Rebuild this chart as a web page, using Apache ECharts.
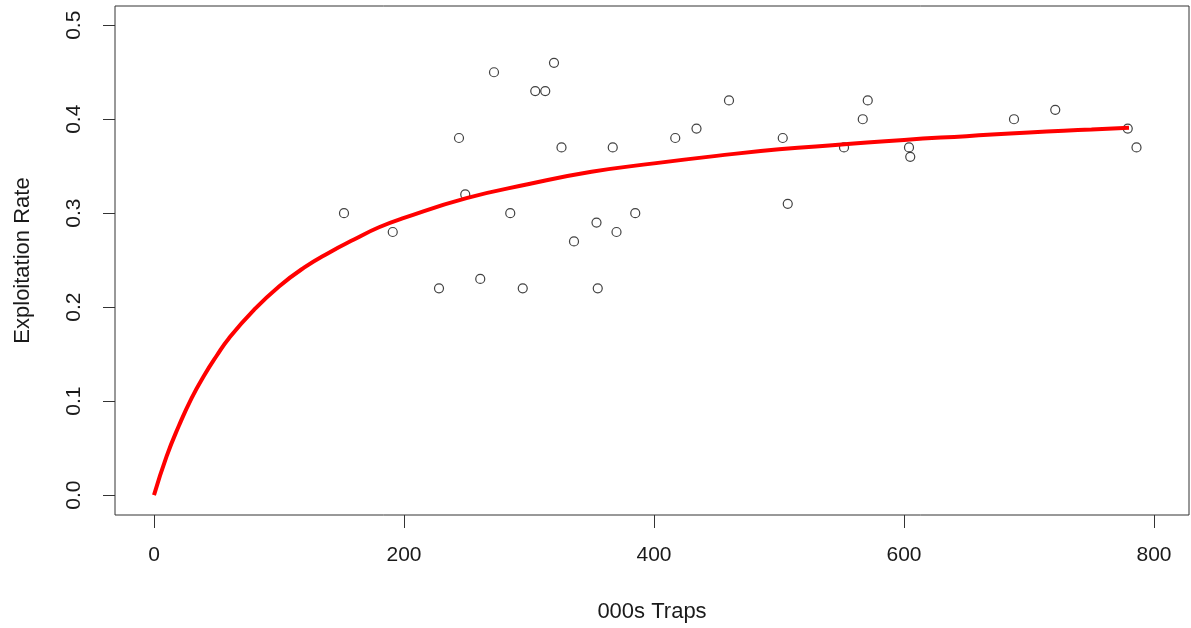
<!DOCTYPE html>
<html>
<head>
<meta charset="utf-8">
<script src="https://cdn.jsdelivr.net/npm/echarts@6/dist/echarts.min.js"></script>
<style>
html,body{margin:0;padding:0;background:#fff;}
#chart{width:1191px;height:628px;}
</style>
</head>
<body>
<div id="chart"></div>
<script>
// Observed data (000s traps, exploitation rate)
var trapsObs = [152, 191, 228, 244, 249, 261, 272, 285, 295, 305, 313, 320, 326, 336, 354, 355, 367, 370, 385,
                417, 434, 460, 503, 507, 552, 567, 571, 604, 605, 688, 721, 779, 786];
var rateObs  = [0.30, 0.28, 0.22, 0.38, 0.32, 0.23, 0.45, 0.30, 0.22, 0.43, 0.43, 0.46, 0.37, 0.27, 0.29, 0.22, 0.37, 0.28, 0.30,
                0.38, 0.39, 0.42, 0.38, 0.31, 0.37, 0.40, 0.42, 0.37, 0.36, 0.40, 0.41, 0.39, 0.37];
// Fitted curve, values
var curveX = [0, 10, 20, 30, 40, 50, 60, 80, 100, 120, 140, 160, 180, 200, 250, 300, 350, 400, 450, 500, 550, 600, 650, 700, 750, 780];
var curveY = [0, 0.041, 0.074, 0.103, 0.127, 0.148, 0.167, 0.197, 0.222, 0.242, 0.258, 0.272, 0.285, 0.295, 0.316, 0.331, 0.344, 0.353, 0.361, 0.368, 0.373, 0.378, 0.382, 0.386, 0.389, 0.391];
// Tick labels
var xTicks = [0, 200, 400, 600, 800];
var yTicks = [0, 0.1, 0.2, 0.3, 0.4, 0.5];
var xTitle = '000s Traps';
var yTitle = 'Exploitation Rate';

var FONT = '"Liberation Sans", Arial, sans-serif';
var TXT = '#1a1a1a';

var chart = echarts.init(document.getElementById('chart'), null, {renderer: 'canvas'});
chart.setOption({
  animation: false,
  backgroundColor: '#fff',
  grid: {left: 115, top: 6, right: 2, bottom: 111, show: true, borderColor: '#333', borderWidth: 1, backgroundColor: 'transparent'},
  xAxis: {
    type: 'value', min: -31.2, max: 828,
    name: xTitle, nameLocation: 'middle', nameGap: 86,
    nameTextStyle: {fontFamily: FONT, fontSize: 22, color: TXT},
    axisLine: {show: false, onZero: false},
    splitLine: {show: false},
    axisTick: {show: true, length: 13, lineStyle: {color: '#333', width: 1}, customValues: xTicks},
    axisLabel: {customValues: xTicks, margin: 30, fontFamily: FONT, fontSize: 21, color: TXT}
  },
  yAxis: {
    type: 'value', min: -0.0212, max: 0.5205,
    name: yTitle, nameLocation: 'middle', nameGap: 81, nameRotate: 90,
    nameTextStyle: {fontFamily: FONT, fontSize: 22, color: TXT},
    axisLine: {show: false, onZero: false},
    splitLine: {show: false},
    axisTick: {show: true, length: 12, lineStyle: {color: '#333', width: 1}, customValues: yTicks},
    axisLabel: {customValues: yTicks, rotate: 90, margin: 30, fontFamily: FONT, fontSize: 21, color: TXT,
      formatter: function (v) { return v.toFixed(1); }}
  },
  series: [
    {
      type: 'scatter',
      data: trapsObs.map(function (x, i) { return [x, rateObs[i]]; }),
      symbol: 'circle', symbolSize: 9,
      itemStyle: {color: 'rgba(0,0,0,0)', borderColor: '#111', borderWidth: 1.2},
      z: 2
    },
    {
      type: 'line',
      data: curveX.map(function (x, i) { return [x, curveY[i]]; }),
      smooth: true, showSymbol: false, symbol: 'none',
      lineStyle: {color: '#ff0000', width: 4},
      z: 3
    }
  ]
});
</script>
</body>
</html>
